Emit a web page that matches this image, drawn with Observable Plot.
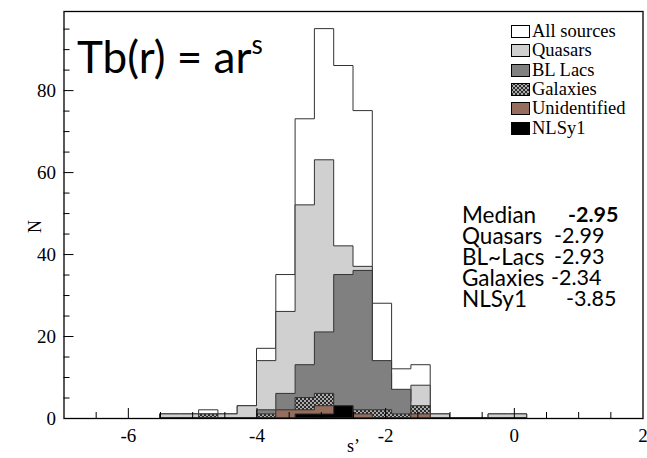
<!DOCTYPE html>
<html><head><meta charset="utf-8">
<script src="https://cdn.jsdelivr.net/npm/d3@7"></script>
<script src="https://cdn.jsdelivr.net/npm/@observablehq/plot@0.6"></script>
<style>
body{margin:0;background:#fff;}
#wrap{position:relative;width:647px;height:458px;overflow:hidden;background:#fff;}
#wrap svg.plot{position:absolute;left:0;top:0;}
.leg{position:absolute;left:511px;top:22px;font-family:"Liberation Serif","Times New Roman",serif;font-size:18.5px;color:#000;}
.leg .row{display:flex;align-items:center;height:19.3px;white-space:nowrap;}
.leg svg{margin-right:2px;display:block;}
.formula{position:absolute;left:77px;top:34px;font-family:Lato,sans-serif;font-size:44px;line-height:44px;white-space:nowrap;color:#000;}
.formula sup{font-size:26px;vertical-align:19px;line-height:0;}
.stats{position:absolute;left:462px;top:204px;font-family:Lato,sans-serif;font-size:22.5px;color:#000;}
.stats .line{position:relative;height:21px;line-height:21px;white-space:nowrap;}
.stats .lab{display:inline-block;height:21px;line-height:21px;overflow:visible;vertical-align:top;}
.stats .v{position:absolute;top:0;display:inline-block;height:21px;line-height:21px;font-size:21.5px;overflow:visible;}
</style>
</head><body>
<svg width="0" height="0" style="position:absolute">
  <defs>
    <pattern id="galHatch" patternUnits="userSpaceOnUse" width="4" height="4">
      <rect width="4" height="4" fill="#2a2a2a"></rect>
      <circle cx="1" cy="1" r="0.9" fill="#e8e8e8"></circle>
      <circle cx="3" cy="3" r="0.9" fill="#e8e8e8"></circle>
    </pattern>
  </defs>
</svg>
<div id="wrap"></div>
<script>
// Histogram bin edges (width 0.3)
const binEdges = [-5.5, -5.2, -4.9, -4.6, -4.3, -4.0, -3.7, -3.4, -3.1, -2.8, -2.5, -2.2, -1.9, -1.6, -1.3, -1.0, -0.7, -0.4, -0.1, 0.2];
// Counts per bin (19 bins)
const allSources   = [1, 1, 2, 1, 3, 17, 35, 73, 95, 86, 75, 28, 12, 13, 1, 0, 0, 1, 1];
const quasars      = [1, 1, 1, 1, 3, 14, 26, 52, 63, 42, 37, 11,  4,  8, 1, 0, 0, 1, 1];
const blLacs       = [0, 0, 0, 0, 0,  2,  6, 13, 21, 35, 36, 14,  7,  0, 0, 0, 0, 0, 0];
const galaxies     = [0, 0, 1, 0, 0,  1,  0,  5,  6,  0,  2,  2,  1,  3, 0, 0, 0, 0, 0];
const unidentified = [0, 0, 0, 0, 0,  0,  2,  2,  3,  3,  1,  0,  0,  1, 0, 0, 0, 0, 0];
const nlsy1        = [0, 0, 0, 0, 0,  0,  0,  1,  1,  3,  0,  0,  0,  0, 0, 0, 0, 0, 0];

const seriesNames = ["All sources", "Quasars", "BL Lacs", "Galaxies", "Unidentified", "NLSy1"];
const seriesColors = ["#ffffff", "#d0d0d0", "#808080", "url(#galHatch)", "#956d5d", "#000000"];
const seriesCounts = [allSources, quasars, blLacs, galaxies, unidentified, nlsy1];

// Axis ticks
const xLabelTicks = [-6, -4, -2, 0, 2];
const xMajorTicks = [-6, -4, -2, 0];
const xMinorTicks = [-6.5, -5.5, -5, -4.5, -3.5, -3, -2.5, -1.5, -1, -0.5, 0.5, 1, 1.5];
const yLabelTicks = [0, 20, 40, 60, 80];
const yMajorTicks = [20, 40, 60, 80];
const yMinorTicks = [5, 10, 15, 25, 30, 35, 45, 50, 55, 65, 70, 75, 85, 90, 95];

// Annotation texts
const statLabels = ["Median", "Quasars", "BL~Lacs", "Galaxies", "NLSy1"];
const statValues = ["-2.95", "-2.99", "-2.93", "-2.34", "-3.85"];

const W = 647, H = 458, mT = 11, mB = 40, mL = 63.5, mR = 4.5;
const pH = H - mT - mB, pW = W - mL - mR;

const marks = [];
seriesCounts.forEach((counts, k) => {
  const pts = binEdges.map((e, i) => ({x: e, y: counts[Math.min(i, counts.length - 1)]}));
  marks.push(Plot.areaY(pts, {x: "x", y: "y", curve: "step-after", fill: seriesColors[k], stroke: "#333", strokeWidth: 1}));
});
const serif = "Liberation Serif";
marks.push(
  Plot.tickX(xMajorTicks, {x: d => d, insetTop: pH - 10, stroke: "#000", strokeWidth: 1}),
  Plot.tickX(xMinorTicks, {x: d => d, insetTop: pH - 6, stroke: "#000", strokeWidth: 1}),
  Plot.tickY(yMajorTicks, {y: d => d, insetRight: pW - 10, stroke: "#000", strokeWidth: 1}),
  Plot.tickY(yMinorTicks, {y: d => d, insetRight: pW - 6, stroke: "#000", strokeWidth: 1}),
  Plot.axisX(xLabelTicks, {tickSize: 0, tickPadding: 10, tickFormat: d => String(d), fontSize: 19, fontFamily: serif, label: null}),
  Plot.axisY(yLabelTicks, {tickSize: 0, tickPadding: 8, tickFormat: d => String(d), fontSize: 19, fontFamily: serif, label: null}),
  Plot.text(["N"], {text: d => d, frameAnchor: "left", dx: -29, dy: 18, rotate: -90, fontSize: 18, fontFamily: serif}),
  Plot.text(["s’"], {text: d => d, frameAnchor: "bottom", dy: 33, fontSize: 18, fontFamily: serif}),
  Plot.frame({stroke: "#000", strokeWidth: 1.3})
);

const chart = Plot.plot({
  width: W, height: H,
  marginTop: mT, marginBottom: mB, marginLeft: mL, marginRight: mR,
  x: {domain: [-7, 2]},
  y: {domain: [0, 99.3]},
  style: {background: "#fff", color: "#000", overflow: "visible"},
  marks
});
chart.classList.add("plot");
const wrap = document.getElementById("wrap");
wrap.appendChild(chart);

// Legend
const leg = document.createElement("div");
leg.className = "leg";
seriesNames.forEach((name, k) => {
  const row = document.createElement("div");
  row.className = "row";
  row.innerHTML = `<svg width="19" height="13"><rect x="0.5" y="0.5" width="18" height="12" fill="${seriesColors[k]}" stroke="#000" stroke-width="1"></rect></svg><span>${name}</span>`;
  leg.appendChild(row);
});
wrap.appendChild(leg);

// Formula
const f = document.createElement("div");
f.className = "formula";
f.innerHTML = "Tb(r) = ar<sup>s</sup>";
wrap.appendChild(f);

// Stats block
const valueOffsets = [106, 92, 92, 89, 104];
const st = document.createElement("div");
st.className = "stats";
statLabels.forEach((lab, i) => {
  const line = document.createElement("div");
  line.className = "line";
  line.innerHTML = `<span class="lab">${lab}</span><span class="v" style="left:${valueOffsets[i]}px;${i === 0 ? "font-weight:bold;" : ""}">${statValues[i]}</span>`;
  st.appendChild(line);
});
wrap.appendChild(st);
</script>
</body></html>
